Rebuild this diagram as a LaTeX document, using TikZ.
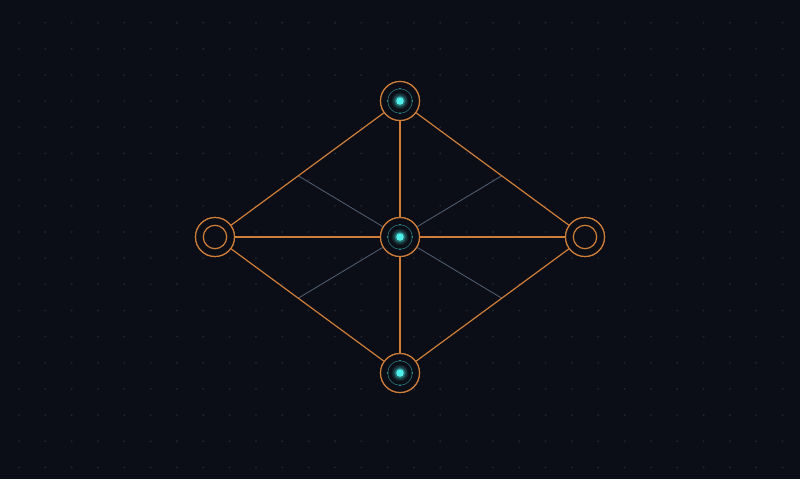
\documentclass[tikz,border=0pt]{standalone}
\usetikzlibrary{calc}
\definecolor{bg}{HTML}{0B0E16}
\definecolor{griddot}{HTML}{1E2531}
\definecolor{wire}{HTML}{CF7E3A}
\definecolor{spoke}{HTML}{4E5A6B}
\definecolor{teal}{HTML}{3CC4C4}
\definecolor{glow}{HTML}{4FF0EC}
\tikzset{
  hub/.style={circle, draw=wire, line width=1.2pt, minimum size=39pt, inner sep=0pt, fill=bg},
  wireline/.style={draw=wire, line width=1.2pt},
  spokeline/.style={draw=spoke, line width=0.9pt},
  tealring/.style={draw=teal, line width=0.7pt, draw opacity=0.5},
  innerorange/.style={draw=wire, line width=1.2pt},
}
\begin{document}
\begin{tikzpicture}[x=1pt,y=-1pt]
\fill[bg] (0,0) rectangle (800,479);
\useasboundingbox (0,0) rectangle (800,479);
% dot grid
\foreach \i in {0,...,29}{
  \foreach \j in {0,...,17}{
    \fill[griddot] ({19+26.33*\i},{22.7+26.16*\j}) circle (1.1pt);
  }
}
% hubs
\node[hub] (top) at (400,101) {};
\node[hub] (mid) at (400,237) {};
\node[hub] (bot) at (400,373) {};
\node[hub] (lft) at (215,237) {};
\node[hub] (rgt) at (585,237) {};
% points on the outer edges
\coordinate (ptl) at ($(top.center)!0.55!(lft.center)$);
\coordinate (ptr) at ($(top.center)!0.55!(rgt.center)$);
\coordinate (pbl) at ($(bot.center)!0.55!(lft.center)$);
\coordinate (pbr) at ($(bot.center)!0.55!(rgt.center)$);
% spokes
\draw[spokeline] (mid) -- (ptl);
\draw[spokeline] (mid) -- (ptr);
\draw[spokeline] (mid) -- (pbl);
\draw[spokeline] (mid) -- (pbr);
% orange connectors
\draw[wireline] (lft) -- (top);
\draw[wireline] (top) -- (rgt);
\draw[wireline] (rgt) -- (bot);
\draw[wireline] (bot) -- (lft);
\draw[wireline] (lft) -- (mid);
\draw[wireline] (mid) -- (rgt);
\draw[wireline] (top) -- (mid);
\draw[wireline] (mid) -- (bot);
% redraw hubs on top
\node[hub] at (top.center) {};
\node[hub] at (mid.center) {};
\node[hub] at (bot.center) {};
\node[hub] at (lft.center) {};
\node[hub] at (rgt.center) {};
% side hubs: inner orange ring
\draw[innerorange] (lft.center) circle (11.7pt);
\draw[innerorange] (rgt.center) circle (11.7pt);
% active hubs: teal ring + glow
\foreach \n in {top,mid,bot}{
  \draw[tealring] (\n.center) circle (12.3pt);
  \foreach \a in {0,90,180,270}{
    \fill[teal, opacity=0.7] ($(\n.center)+(\a:12.3pt)$) circle (0.9pt);
  }
  \fill[glow, opacity=0.08] (\n.center) circle (8.5pt);
  \fill[glow, opacity=0.15] (\n.center) circle (7pt);
  \fill[glow, opacity=0.3] (\n.center) circle (5.5pt);
  \fill[glow] (\n.center) circle (3.8pt);
}
\end{tikzpicture}
\end{document}
